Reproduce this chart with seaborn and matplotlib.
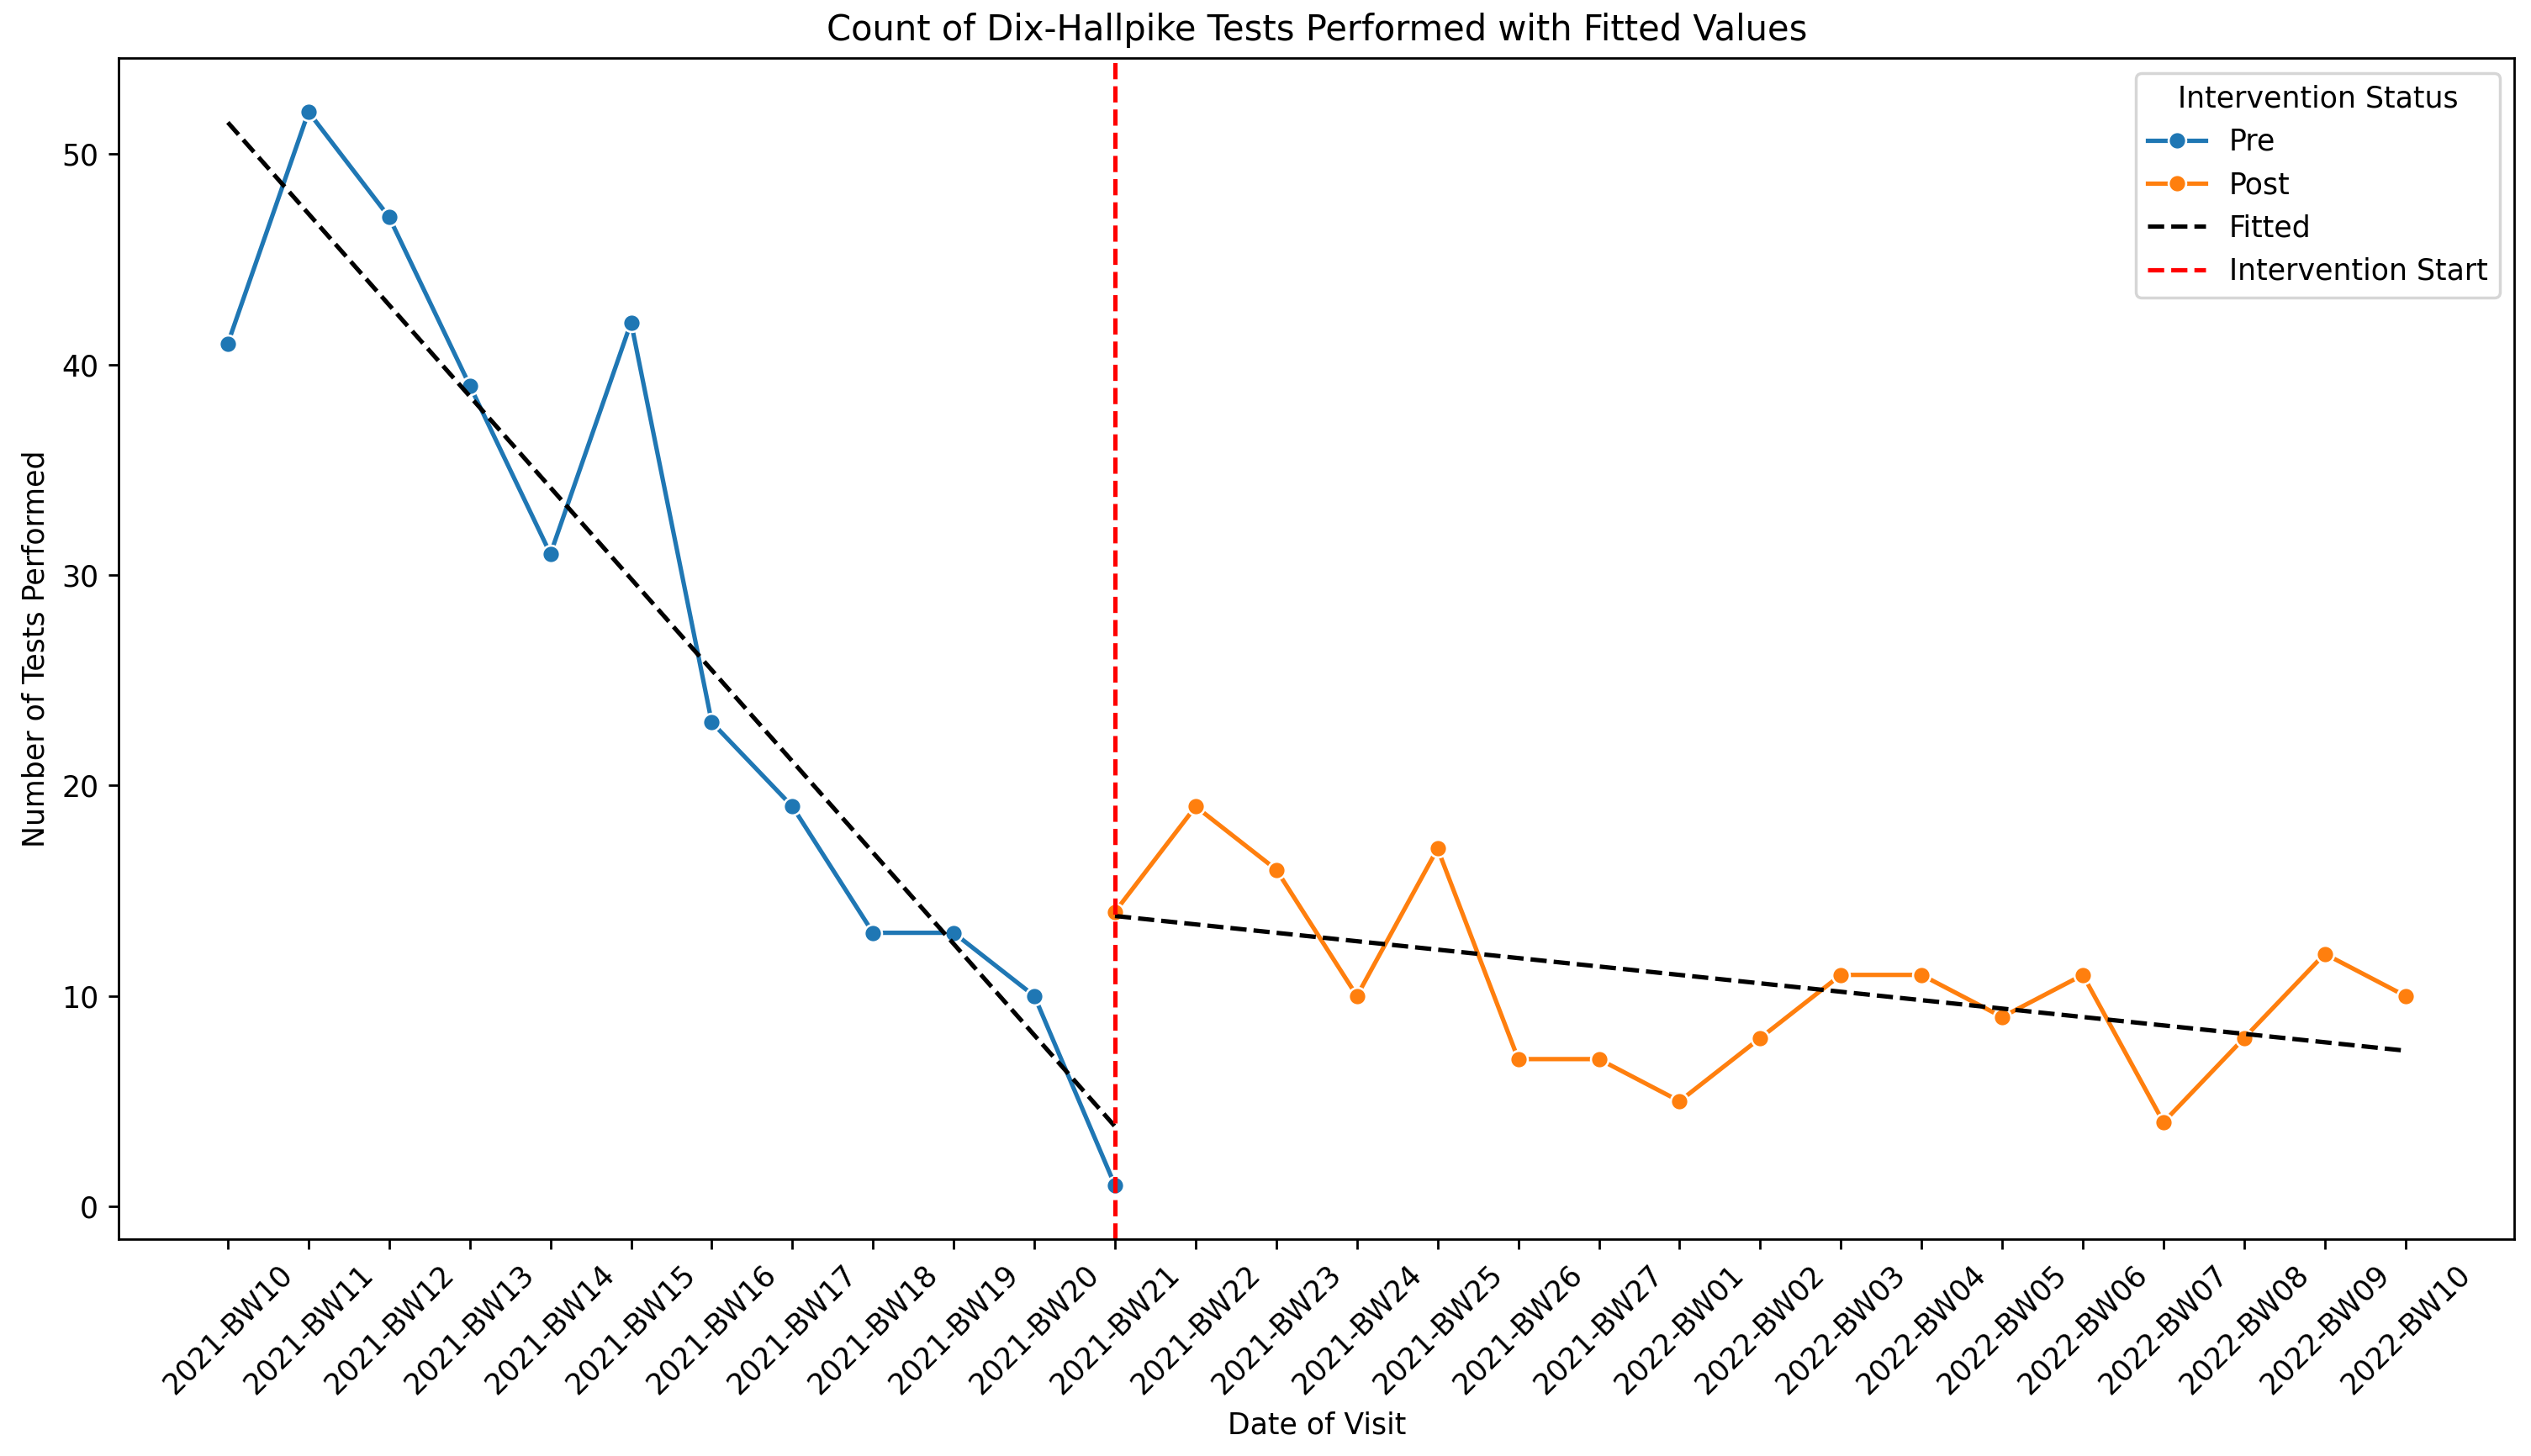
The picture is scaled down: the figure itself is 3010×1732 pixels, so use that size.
import pandas as pd
import matplotlib
matplotlib.use('Agg')
import matplotlib.pyplot as plt
import seaborn as sn

# weeks (bi-weekly periods)
weeks = ['2021-BW10', '2021-BW11', '2021-BW12', '2021-BW13', '2021-BW14', '2021-BW15',
         '2021-BW16', '2021-BW17', '2021-BW18', '2021-BW19', '2021-BW20', '2021-BW21',
         '2021-BW22', '2021-BW23', '2021-BW24', '2021-BW25', '2021-BW26', '2021-BW27',
         '2022-BW01', '2022-BW02', '2022-BW03', '2022-BW04', '2022-BW05', '2022-BW06',
         '2022-BW07', '2022-BW08', '2022-BW09', '2022-BW10']

pre_weeks = weeks[:12]
pre_counts = [41, 52, 47, 39, 31, 42, 23, 19, 13, 13, 10, 1]

post_weeks = weeks[11:]
post_counts = [14, 19, 16, 10, 17, 7, 7, 5, 8, 11, 11, 9, 11, 4, 8, 12, 10]

# fitted line endpoints
fit_pre_weeks = ['2021-BW10', '2021-BW21']
fit_pre_vals = [51.5, 3.8]
fit_post_weeks = ['2021-BW21', '2022-BW10']
fit_post_vals = [13.8, 7.4]

intervention_week = '2021-BW21'

df_pre = pd.DataFrame({'week': pre_weeks, 'count': pre_counts})
df_post = pd.DataFrame({'week': post_weeks, 'count': post_counts})

fig, ax = plt.subplots(figsize=(12.04, 6.928), dpi=250)
fig.subplots_adjust(left=0.047, right=0.9934, top=0.960, bottom=0.149)

sn.lineplot(data=df_pre, x='week', y='count', marker='o', color='#1f77b4',
            label='Pre', ax=ax, sort=False)
sn.lineplot(data=df_post, x='week', y='count', marker='o', color='#ff7f0e',
            label='Post', ax=ax, sort=False)

ax.plot(fit_pre_weeks, fit_pre_vals, color='black', linestyle='--', label='Fitted')
ax.plot(fit_post_weeks, fit_post_vals, color='black', linestyle='--')

ax.axvline(x=weeks.index(intervention_week), color='red', linestyle='--',
           label='Intervention Start')

ax.set_title('Count of Dix-Hallpike Tests Performed with Fitted Values')
ax.set_xlabel('Date of Visit')
ax.set_ylabel('Number of Tests Performed')
plt.xticks(rotation=45)
ax.legend(title='Intervention Status', loc='upper right')

plt.savefig('out.png', dpi=250)
